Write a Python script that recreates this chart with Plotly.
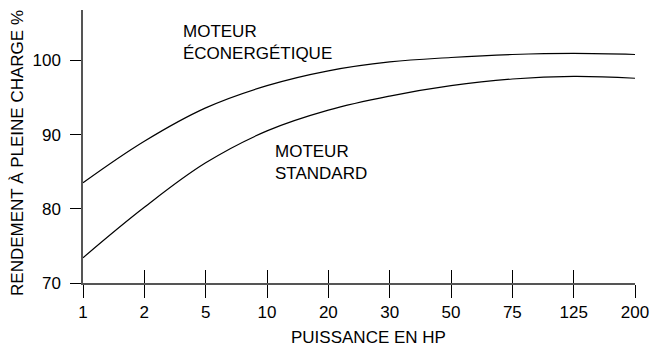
import plotly.graph_objects as go

# Motor power ratings (HP), shown as evenly spaced categories
puissance_hp = ["1", "2", "5", "10", "20", "30", "50", "75", "125", "200"]
# Full-load efficiency (%) of each motor type
rendement_econergetique = [83.5, 89.1, 93.6, 96.6, 98.6, 99.8, 100.4, 100.8, 100.95, 100.8]
rendement_standard = [73.4, 80.2, 86.2, 90.5, 93.3, 95.2, 96.6, 97.5, 97.85, 97.6]

y_ticks = [70, 80, 90, 100]

FONT = "Liberation Sans, Arial, sans-serif"
FS = 17
pos = list(range(len(puissance_hp)))

fig = go.Figure()
for serie in (rendement_econergetique, rendement_standard):
    fig.add_trace(go.Scatter(
        x=pos, y=serie, mode="lines",
        line=dict(color="#000000", width=1.2, shape="spline", smoothing=1.1),
        showlegend=False, hoverinfo="skip",
    ))

# Second x axis carries the upward half of the crossing tick marks
fig.add_trace(go.Scatter(x=[pos[0]], y=[None], xaxis="x2", showlegend=False, hoverinfo="skip"))

fig.update_layout(
    width=659, height=354,
    margin=dict(l=83, r=19, t=10, b=71),
    paper_bgcolor="white", plot_bgcolor="white",
    font=dict(family=FONT, size=FS, color="#000000"),
    xaxis=dict(
        range=[0, len(puissance_hp) - 1],
        tickmode="array", tickvals=pos, ticktext=puissance_hp,
        ticks="outside", ticklen=13, tickwidth=1, tickcolor="#000000",
        showline=True, linecolor="#555555", linewidth=1.5,
        showgrid=False, zeroline=False, ticklabelstandoff=0,
    ),
    xaxis2=dict(
        range=[0, len(puissance_hp) - 1], overlaying="x", side="bottom",
        anchor="y", tickmode="array", tickvals=pos,
        ticks="inside", ticklen=13, tickwidth=1, tickcolor="#000000",
        showticklabels=False, showline=False, showgrid=False, zeroline=False,
    ),
    yaxis=dict(
        range=[70, 106.8],
        tickmode="array", tickvals=y_ticks,
        ticks="outside", ticklen=11, tickwidth=1, tickcolor="#000000",
        showline=True, linecolor="#555555", linewidth=1.5,
        showgrid=False, zeroline=False, ticklabelstandoff=6,
    ),
    annotations=[
        dict(text="RENDEMENT À PLEINE CHARGE %", textangle=-90,
             xref="paper", yref="paper", x=-0.1185, y=0.475,
             xanchor="center", yanchor="middle", showarrow=False),
        dict(text="PUISSANCE EN HP",
             xref="paper", yref="paper", x=0.517, y=-0.2,
             xanchor="center", yanchor="middle", showarrow=False),
        dict(text="MOTEUR<br>ÉCONERGÉTIQUE", align="left",
             xref="x", yref="y", x=1.59, y=105.5,
             xanchor="left", yanchor="top", showarrow=False),
        dict(text="MOTEUR<br>STANDARD", align="left",
             xref="x", yref="y", x=3.1, y=89.3,
             xanchor="left", yanchor="top", showarrow=False),
    ],
)

fig.write_html("out.html")
